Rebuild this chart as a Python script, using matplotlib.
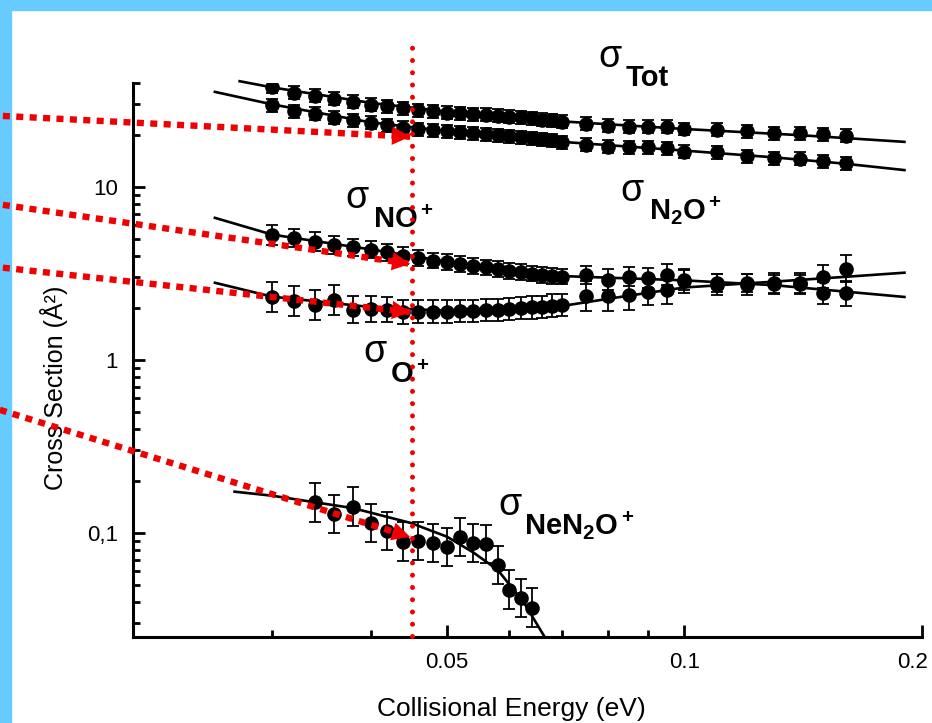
import numpy as np
import matplotlib
matplotlib.use("Agg")
import matplotlib.pyplot as plt
from matplotlib.patches import Rectangle
from matplotlib.transforms import ScaledTranslation
from matplotlib.ticker import FixedLocator, FixedFormatter, LogLocator, NullFormatter

plt.rcParams['font.family'] = ['Liberation Sans', 'DejaVu Sans']
plt.rcParams['mathtext.fontset'] = 'custom'
plt.rcParams['mathtext.rm'] = 'Liberation Sans'
plt.rcParams['mathtext.bf'] = 'Liberation Sans:bold'
plt.rcParams['mathtext.it'] = 'Liberation Sans:italic'

# collision energies (eV) of the measured points
energy = [0.030, 0.032, 0.034, 0.036, 0.038, 0.040, 0.042, 0.044, 0.046, 0.048,
          0.050, 0.052, 0.054, 0.056, 0.058, 0.060, 0.062, 0.064, 0.066, 0.068,
          0.070, 0.075, 0.080, 0.085, 0.090, 0.095, 0.100, 0.110, 0.120, 0.130,
          0.140, 0.150, 0.160]

sig_tot = [37.9, 34.9, 33.6, 32.4, 31.0, 29.9, 29.3, 28.4, 27.7, 27.3,
           26.9, 26.6, 26.2, 26.1, 25.7, 25.4, 25.2, 24.9, 24.5, 24.3,
           23.8, 23.1, 22.5, 22.3, 22.3, 22.3, 21.6, 21.4, 20.9, 20.4,
           20.4, 20.2, 19.8]
sig_n2o = [29.7, 27.4, 26.5, 25.1, 24.3, 23.5, 22.7, 21.9, 21.5, 21.2,
           20.9, 20.7, 20.4, 20.1, 19.9, 19.6, 19.3, 19.1, 18.8, 18.6,
           18.1, 17.5, 17.1, 16.9, 16.9, 16.7, 16.0, 15.8, 15.0, 14.6,
           14.5, 14.1, 13.7]
sig_no = [5.28, 5.05, 4.83, 4.62, 4.48, 4.32, 4.19, 4.01, 3.87, 3.75,
          3.67, 3.57, 3.49, 3.42, 3.34, 3.27, 3.21, 3.15, 3.10, 3.06,
          3.03, 3.10, 2.90, 3.03, 2.97, 3.10, 2.90, 2.78, 2.78, 2.74,
          2.74, 2.43, 2.43]
sig_o = [2.32, 2.19, 2.08, 2.22, 1.95, 1.97, 1.95, 1.89, 1.90, 1.90,
         1.90, 1.91, 1.92, 1.95, 1.95, 1.96, 1.99, 2.01, 2.03, 2.06,
         2.08, 2.35, 2.35, 2.37, 2.48, 2.54, 2.84, 2.71, 2.71, 2.78,
         2.78, 3.03, 3.36]

# error bars as multiplicative factors
err_tot = [1.09] * 33
err_n2o = [1.09] * 33
err_no = [1.14, 1.13, 1.13, 1.13, 1.12, 1.12, 1.12, 1.12, 1.11, 1.11,
          1.11, 1.11, 1.11, 1.11, 1.11, 1.11, 1.11, 1.11, 1.11, 1.11,
          1.11, 1.13, 1.15, 1.14, 1.14, 1.15, 1.15, 1.13, 1.13, 1.13,
          1.13, 1.16, 1.18]
err_o = [1.22, 1.22, 1.22, 1.22, 1.20, 1.19, 1.18, 1.18, 1.16, 1.16,
         1.16, 1.16, 1.16, 1.16, 1.16, 1.16, 1.16, 1.16, 1.16, 1.16,
         1.16, 1.22, 1.22, 1.22, 1.20, 1.20, 1.17, 1.15, 1.15, 1.15,
         1.15, 1.17, 1.20]

energy_ne = [0.034, 0.036, 0.038, 0.040, 0.042, 0.044, 0.046, 0.048,
             0.050, 0.052, 0.054, 0.056, 0.058, 0.060, 0.062, 0.064]
sig_ne = [0.150, 0.128, 0.142, 0.114, 0.102, 0.089, 0.090, 0.087,
          0.083, 0.095, 0.087, 0.086, 0.065, 0.047, 0.042, 0.037]
err_ne = [1.29] * 16

# fitted curves
fit_tot_e = [0.0273, 0.030, 0.040, 0.050, 0.070, 0.100, 0.140, 0.190]
fit_tot_s = [40.8, 37.6, 30.6, 27.2, 23.9, 21.6, 19.9, 18.2]
fit_n2o_e = [0.0254, 0.030, 0.040, 0.050, 0.070, 0.100, 0.130, 0.160, 0.190]
fit_n2o_s = [35.4, 30.0, 23.6, 21.0, 18.2, 16.2, 14.8, 13.6, 12.5]
fit_no_e = [0.0254, 0.030, 0.040, 0.050, 0.070, 0.100, 0.130, 0.190]
fit_no_s = [6.62, 5.30, 4.35, 3.70, 3.05, 2.88, 2.70, 2.31]
fit_o_e = [0.0254, 0.030, 0.040, 0.050, 0.060, 0.070, 0.085, 0.100, 0.125, 0.160, 0.190]
fit_o_s = [2.79, 2.32, 2.02, 1.92, 1.95, 2.05, 2.35, 2.62, 2.80, 3.02, 3.19]
fit_ne_e = [0.0269, 0.030, 0.038, 0.045, 0.050, 0.054, 0.058, 0.0627, 0.0665]
fit_ne_s = [0.173, 0.164, 0.139, 0.114, 0.095, 0.077, 0.061, 0.039, 0.025]

# red markers: vertical line and arrows pointing at it
e_mark = 0.0451
arrow_start = [(0.01368, 25.7), (0.01368, 7.87), (0.01368, 3.41), (0.01356, 0.514)]
arrow_tip = [(0.0449, 19.5), (0.0449, 3.59), (0.0449, 1.89), (0.0449, 0.0948)]

red = '#f00000'

fig = plt.figure(figsize=(9.32, 7.23), dpi=100)
fig.patches.append(Rectangle((0, 0), 11 / 932, 1, transform=fig.transFigure,
                             color='#66ccff', zorder=-1))
fig.patches.append(Rectangle((0, 1 - 10 / 723), 1, 10 / 723, transform=fig.transFigure,
                             color='#66ccff', zorder=-1))

ax = fig.add_axes([133 / 932, 1 - 637 / 723, 789 / 932, 554.3 / 723])
ax.set_xscale('log')
ax.set_yscale('log')
ax.set_xlim(0.02, 0.2)
ax.set_ylim(0.025, 40)

for e, s in [(fit_tot_e, fit_tot_s), (fit_n2o_e, fit_n2o_s), (fit_no_e, fit_no_s),
             (fit_o_e, fit_o_s), (fit_ne_e, fit_ne_s)]:
    ax.plot(e, s, color='k', lw=1.9, zorder=2, clip_on=False)

for e, s, f in [(energy, sig_tot, err_tot), (energy, sig_n2o, err_n2o),
                (energy, sig_no, err_no), (energy, sig_o, err_o),
                (energy_ne, sig_ne, err_ne)]:
    s = np.array(s)
    f = np.array(f)
    ax.errorbar(e, s, yerr=[s - s / f, s * f - s], fmt='o', ms=9.5, color='k',
                ecolor='k', elinewidth=1.3, capsize=4.5, capthick=1.3, zorder=3)

# labels of the curves
ax.text(0.0805, 56.4, 'σ', fontsize=27, ha='center', va='center', clip_on=False)
ax.text(0.0843, 38.4, 'Tot', fontsize=21, fontweight='bold', va='baseline')
ax.text(0.0384, 8.64, 'σ', fontsize=27, ha='center', va='center')
ax.text(0.0403, 5.79, r'$\mathbf{NO^+}$', fontsize=21, va='baseline')
ax.text(0.0858, 9.48, 'σ', fontsize=27, ha='center', va='center')
ax.text(0.0902, 6.45, r'$\mathbf{N_2O^+}$', fontsize=21, va='baseline')
ax.text(0.0405, 1.112, 'σ', fontsize=27, ha='center', va='center')
ax.text(0.0423, 0.736, r'$\mathbf{O^+}$', fontsize=21, va='baseline')
ax.text(0.0601, 0.1452, 'σ', fontsize=27, ha='center', va='center')
ax.text(0.0626, 0.0974, r'$\mathbf{NeN_2O^+}$', fontsize=21, va='baseline')

# red annotations
ax.plot([e_mark, e_mark], [0.0255, 66], color=red, lw=3.6,
        ls=(0, (0.001, 2.45)), dash_capstyle='round', zorder=5, clip_on=False)
for (xs, ys), (xt, yt) in zip(arrow_start, arrow_tip):
    ax.plot([xs, xt], [ys, yt], color=red, lw=4.6, ls=(0, (1.1, 1.0)),
            dash_capstyle='butt', zorder=6, clip_on=False)
    ax.annotate('', xy=(xt, yt), xytext=(xs, ys), annotation_clip=False,
                arrowprops=dict(arrowstyle='-|>,head_length=0.65,head_width=0.33',
                                color=red, lw=0, mutation_scale=20,
                                shrinkA=0, shrinkB=0), zorder=7)

for side in ['top', 'right']:
    ax.spines[side].set_visible(False)
for side in ['left', 'bottom']:
    ax.spines[side].set_linewidth(2.2)

ax.xaxis.set_major_locator(FixedLocator([0.05, 0.1, 0.2]))
ax.xaxis.set_major_formatter(FixedFormatter(['0.05', '0.1', '0.2']))
ax.xaxis.set_minor_locator(FixedLocator([0.03, 0.04, 0.06, 0.07, 0.08, 0.09]))
ax.xaxis.set_minor_formatter(NullFormatter())
ax.yaxis.set_major_locator(FixedLocator([0.1, 1, 10]))
ax.yaxis.set_major_formatter(FixedFormatter(['0,1', '1', '10']))
ax.yaxis.set_minor_locator(LogLocator(base=10, subs=np.arange(2, 10)))
ax.yaxis.set_minor_formatter(NullFormatter())

ax.tick_params(which='major', direction='in', length=8.5, width=2, labelsize=16, pad=11)
ax.tick_params(which='minor', direction='in', length=5, width=2)

ax.set_xlabel('Collisional Energy (eV)', fontsize=19)
ax.set_ylabel('Cross Section (Å²)', fontsize=18)
ax.xaxis.set_label_coords(0.479, -0.109)
ax.yaxis.set_label_coords(-0.0825, 0.449)

# last x tick label sits a little left of its tick, as in the original
fig.canvas.draw()
last = ax.get_xticklabels()[-1]
last.set_transform(last.get_transform() + ScaledTranslation(-0.09, 0, fig.dpi_scale_trans))

fig.savefig('out.png', dpi=100)
